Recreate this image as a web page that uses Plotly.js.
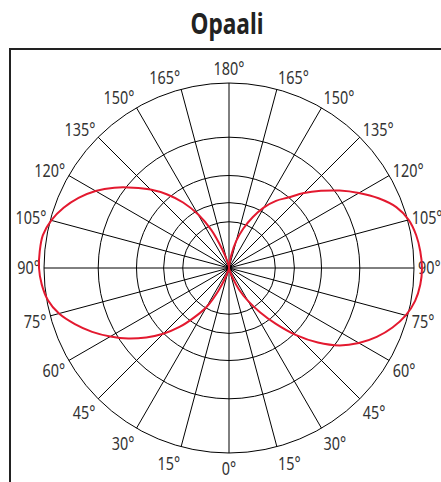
<!DOCTYPE html>
<html>
<head>
<meta charset="utf-8">
<script src="https://cdn.plot.ly/plotly-3.0.1.min.js"></script>
<style>
html,body{margin:0;padding:0;background:#fff;}
#chart{width:441px;height:482px;}
</style>
</head>
<body>
<div id="chart"></div>
<script>
// Angles measured from the downward vertical (0°) to the upward vertical (180°)
const angles = [0,5,10,15,20,25,30,35,40,45,50,55,60,65,70,75,80,85,90,95,100,105,110,115,120,125,130,135,140,145,150,155,160,165,170,175,180];
// Left half-plane lobe (outer ring = 185)
const leftLobe = [0,0,1,3,9,25,45,60,77,93,108,123,137,151,164,176,184,188,190,190,189,184,176,166,154,140,125,111,96,80,62,42,20,8,3,1,0];
// Right half-plane lobe
const rightLobe = [0,0,1,3,10,24,38,54,73,95,116,135,150,163,174,183,189,192,193,192,190,186,178,165,150,135,120,106,92,82,70,56,42,28,13,4,0];
// Grid rings and angular ticks
const ringValues = [46.25, 65.4, 92.5, 130.8];
const outerRing = 185;
const tickAngles = [0,15,30,45,60,75,90,105,120,135,150,165,180,195,210,225,240,255,270,285,300,315,330,345];
const tickLabels = tickAngles.map(a => (a <= 180 ? a : 360 - a) + '°');

const W = 441, H = 482, cx = 229, cy = 268, R = 185, R2 = 200;
const font = 'Noto Sans, sans-serif';

const traces = [{
  type: 'scatterpolar', subplot: 'polar', mode: 'markers',
  theta: [0], r: [0], marker: {opacity: 0, size: 1}, hoverinfo: 'skip', showlegend: false
}, {
  type: 'scatterpolar', subplot: 'polar2', mode: 'lines',
  theta: angles, r: leftLobe,
  line: {color: '#e3192f', width: 2, shape: 'spline'}, hoverinfo: 'skip', showlegend: false
}, {
  type: 'scatterpolar', subplot: 'polar2', mode: 'lines',
  theta: angles.map(a => 360 - a), r: rightLobe,
  line: {color: '#e3192f', width: 2, shape: 'spline'}, hoverinfo: 'skip', showlegend: false
}];

const layout = {
  width: W, height: H,
  margin: {l: 0, r: 0, t: 0, b: 0},
  paper_bgcolor: '#fff',
  showlegend: false,
  title: {text: '<b>Opaali</b>', x: 227 / W, xref: 'paper', xanchor: 'center', y: 1 - 24 / H, yref: 'paper', yanchor: 'middle',
    font: {family: font, size: 29, color: '#222'}},
  polar: {
    domain: {x: [(cx - R) / W, (cx + R) / W], y: [1 - (cy + R) / H, 1 - (cy - R) / H]},
    bgcolor: '#fff',
    angularaxis: {
      rotation: -90, direction: 'clockwise',
      tickmode: 'array', tickvals: tickAngles, ticktext: tickLabels,
      ticks: '', showline: true, linecolor: '#000', linewidth: 1,
      showgrid: true, gridcolor: '#000', gridwidth: 1,
      tickfont: {family: font, size: 18, color: '#333'}
    },
    radialaxis: {
      range: [0, outerRing], tickmode: 'array', tickvals: ringValues,
      showticklabels: false, ticks: '', showline: false,
      showgrid: true, gridcolor: '#000', gridwidth: 1
    }
  },
  polar2: {
    domain: {x: [(cx - R2) / W, (cx + R2) / W], y: [1 - (cy + R2) / H, 1 - (cy - R2) / H]},
    bgcolor: 'rgba(0,0,0,0)',
    angularaxis: {rotation: -90, direction: 'clockwise', visible: false, showgrid: false},
    radialaxis: {range: [0, outerRing * R2 / R], visible: false, showgrid: false}
  },
  shapes: [{
    type: 'rect', xref: 'paper', yref: 'paper',
    x0: 10 / W, x1: 1.05, y0: -0.05, y1: 1 - 49 / H,
    line: {color: '#222', width: 2}, fillcolor: 'rgba(0,0,0,0)', layer: 'below'
  }]
};

// Condensed look: the reference uses a narrow grotesque, so squeeze glyphs horizontally.
function condense(el, factor) {
  const w = el.getComputedTextLength();
  if (w > 0) {
    el.setAttribute('textLength', (w * factor).toFixed(2));
    el.setAttribute('lengthAdjust', 'spacingAndGlyphs');
  }
}

Plotly.newPlot('chart', traces, layout, {displayModeBar: false, staticPlot: true}).then(gd => {
  gd.querySelectorAll('.angularaxistick text').forEach(t => condense(t, 0.8));
  const title = gd.querySelector('.gtitle');
  if (title) condense(title, 73 / title.getComputedTextLength());
});
</script>
</body>
</html>
